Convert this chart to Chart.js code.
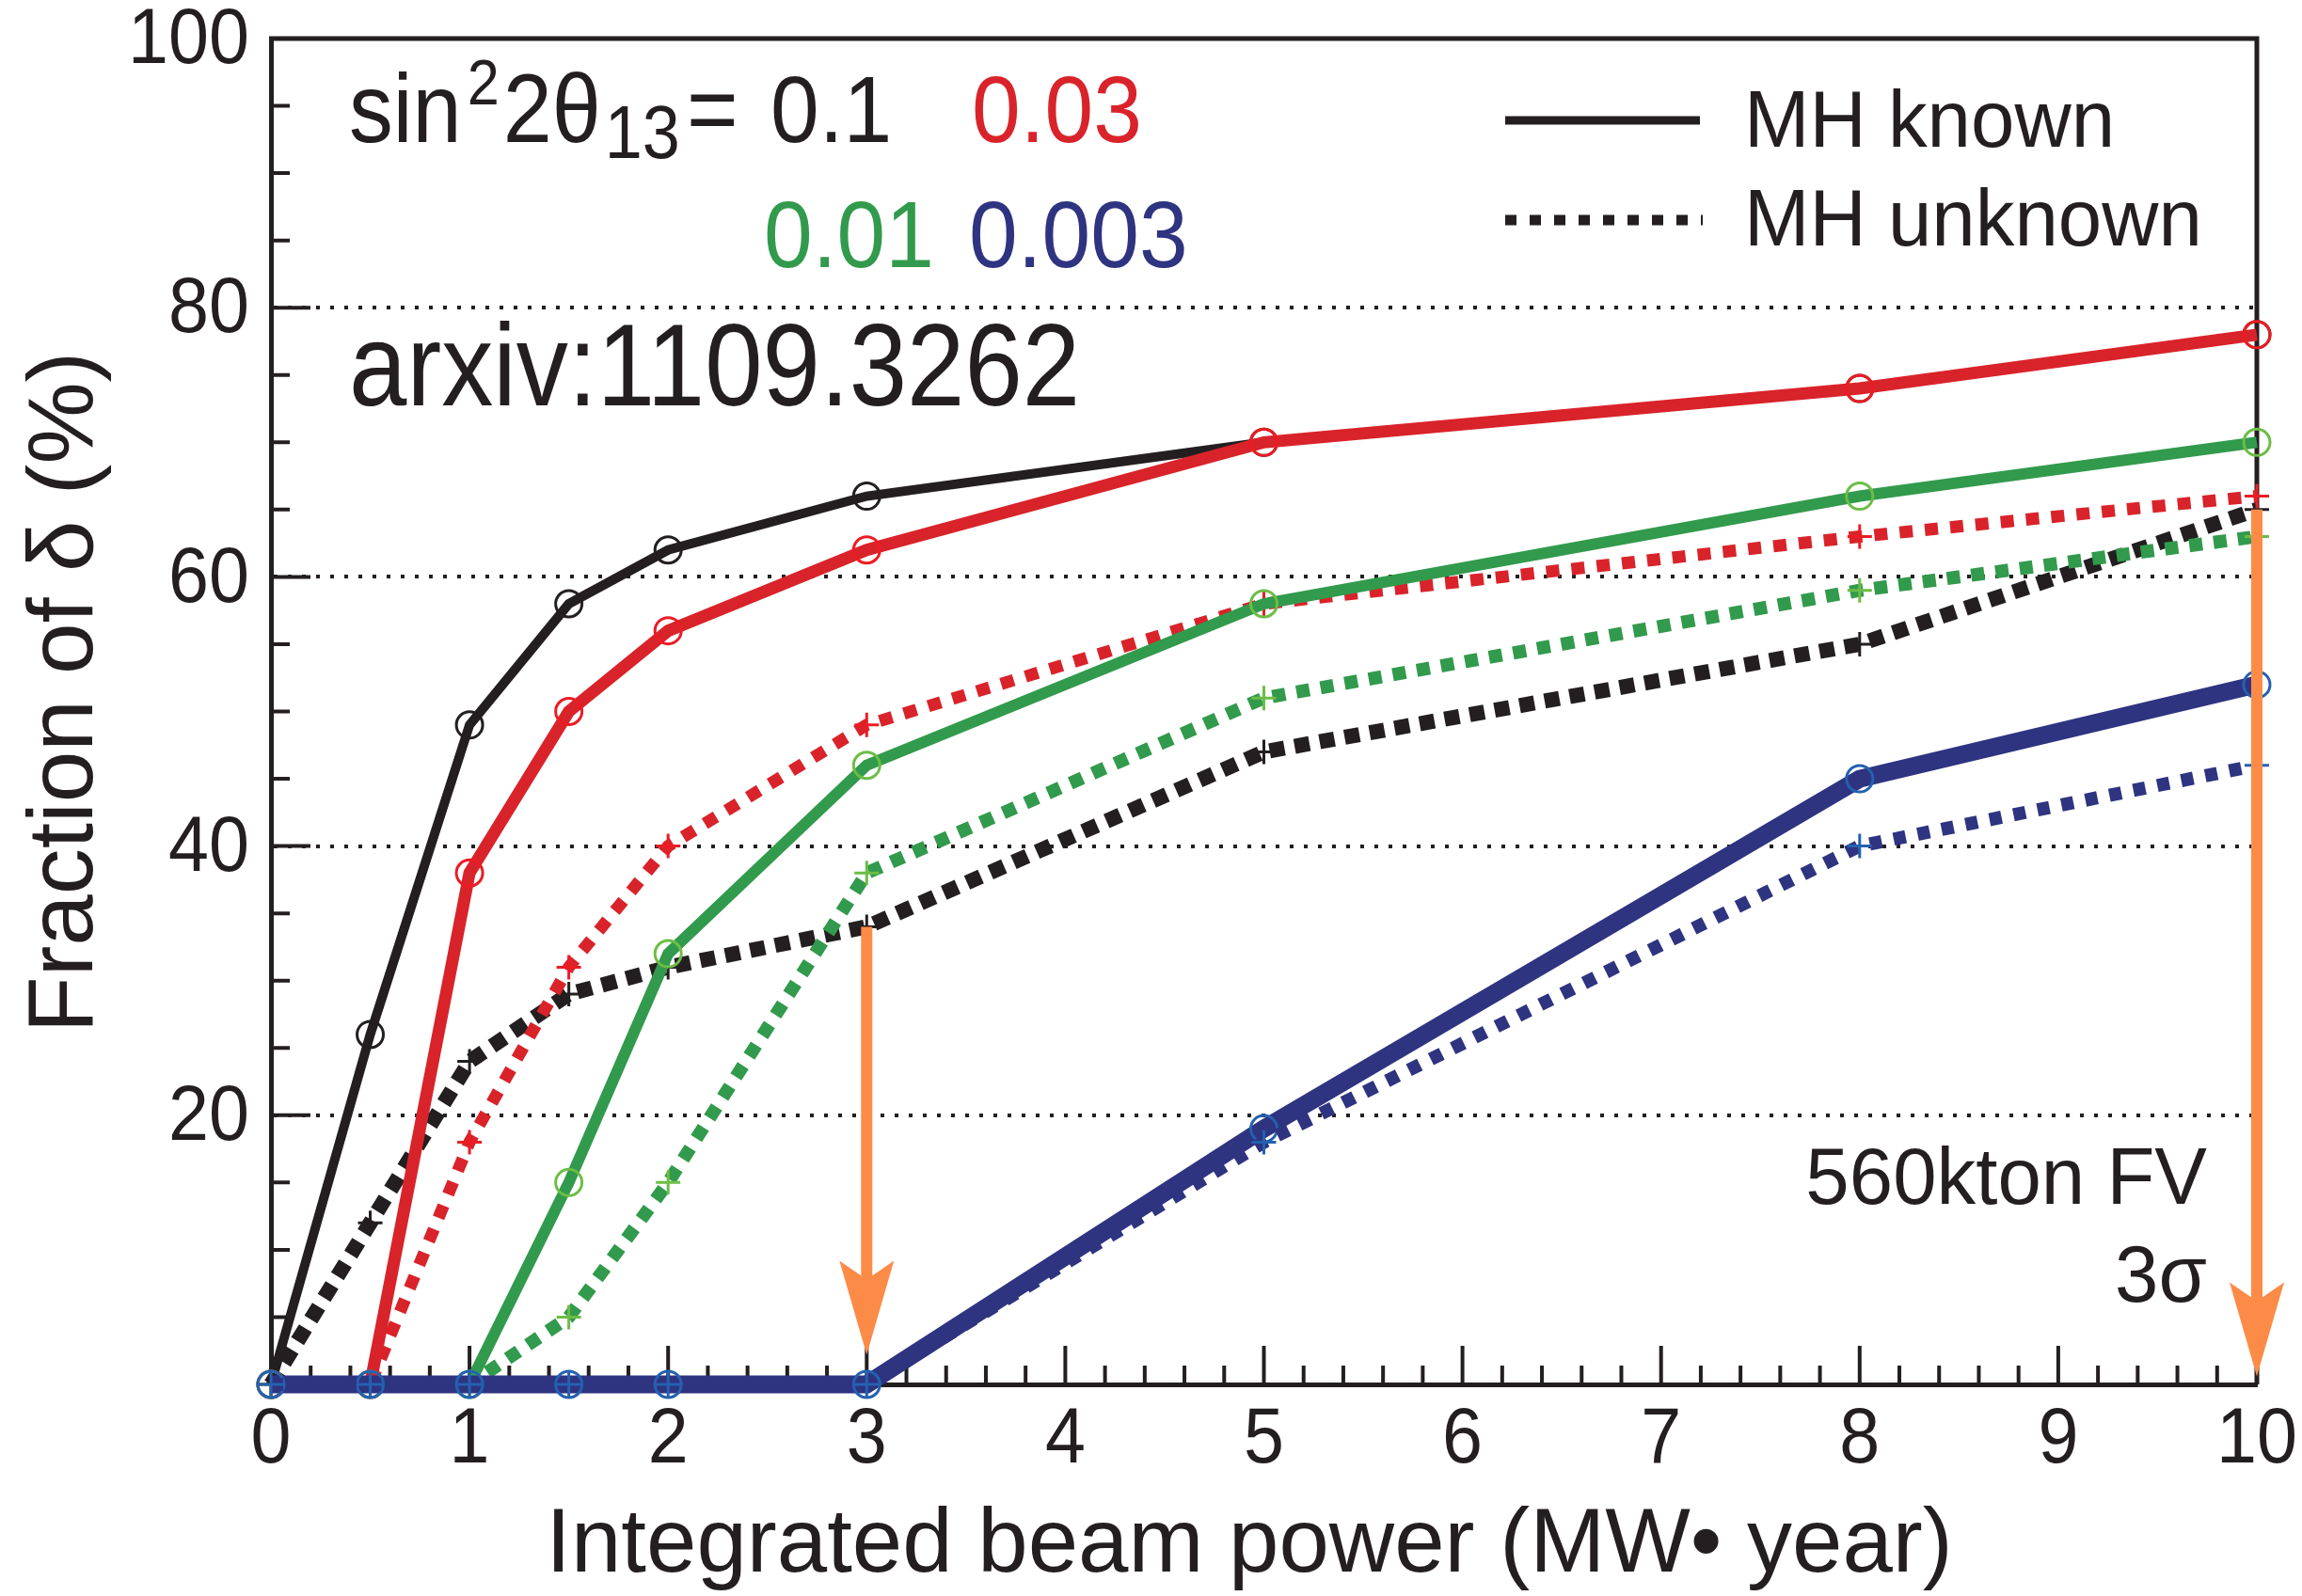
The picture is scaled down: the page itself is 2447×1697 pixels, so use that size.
<!DOCTYPE html>
<html>
<head>
<meta charset="utf-8">
<script src="https://cdn.jsdelivr.net/npm/chart.js@4.4.1/dist/chart.umd.min.js"></script>
<style>
  html, body { margin: 0; padding: 0; background: #fff; }
  canvas { display: block; }
</style>
</head>
<body>
<canvas id="c" width="2447" height="1697"></canvas>
<script>
// integrated beam power (MW*year)
const power = [0, 0.5, 1, 1.5, 2, 3, 5, 8, 10];

// fraction of delta (%) covered at 3 sigma, mass hierarchy known
const known01 = [0, 26, 49, 58, 62, 66, 70, 74, 78];
const known003 = [0, 0, 38, 50, 56, 62, 70, 74, 78];
const known001 = [0, 0, 0, 15, 32, 46, 58, 66, 70];
const known0003 = [0, 0, 0, 0, 0, 0, 19, 45, 52];

// same, mass hierarchy unknown
const unknown01 = [0, 12, 24, 29, 31, 34, 47, 55, 65];
const unknown003 = [0, 0, 18, 31, 40, 49, 58, 63, 66];
const unknown001 = [0, 0, 0, 5, 15, 38, 51, 59, 63];
const unknown0003 = [0, 0, 0, 0, 0, 0, 18, 40, 46];

const xTickLabels = ['0', '1', '2', '3', '4', '5', '6', '7', '8', '9', '10'];
const yTickLabels = ['20', '40', '60', '80', '100'];

// orange arrows: x position, start value, end value
const arrowAt = [3, 10];
const arrowFrom = [34, 65];
const arrowTo = [2.2, 0.6];

const ink = '#231f20';
const FONT = "'Liberation Sans', Arial, Helvetica, sans-serif";
const C = {
  black: ink,
  red: '#d9232a', redMark: '#ec1c24',
  green: '#329a4c', greenMark: '#6cbd45',
  navy: '#2e3480', blueMark: '#2461b0',
  orange: '#fd8b48'
};

function series(values, color, mark, width, dash) {
  return {
    data: values.map((v, i) => ({ x: power[i], y: v })),
    borderColor: color,
    borderWidth: width,
    borderDash: dash || [],
    borderCapStyle: 'butt',
    pointStyle: dash ? 'cross' : 'circle',
    pointRadius: dash ? 13 : 14,
    pointBorderWidth: 3,
    pointBorderColor: mark,
    pointBackgroundColor: 'rgba(0,0,0,0)',
    tension: 0,
    fill: false,
    clip: false
  };
}

// bottom to top
const datasets = [
  series(unknown01, C.black, C.black, 16, [16, 11]),
  series(unknown003, C.red, C.redMark, 13, [14, 13]),
  series(unknown001, C.green, C.greenMark, 14, [14, 12]),
  series(known01, C.black, C.black, 10),
  series(known003, C.red, C.redMark, 13),
  series(known001, C.green, C.greenMark, 12),
  series(known0003, C.navy, C.blueMark, 19),
  series(unknown0003, C.navy, C.blueMark, 14, [13, 13])
];
datasets.forEach((d, i) => { d.order = datasets.length - i; });

// text squeezed horizontally, like a condensed face; returns drawn width
function label(ctx, str, x, y, size, opts = {}) {
  const sx = opts.sx || 0.9;
  ctx.save();
  ctx.font = `${size}px ${FONT}`;
  ctx.fillStyle = opts.color || ink;
  ctx.textAlign = opts.align || 'left';
  ctx.textBaseline = opts.baseline || 'alphabetic';
  ctx.translate(x, y);
  if (opts.rotate) ctx.rotate(opts.rotate);
  ctx.scale(sx, 1);
  ctx.fillText(str, 0, 0);
  const w = ctx.measureText(str).width * sx;
  ctx.restore();
  return w;
}

const decor = {
  id: 'decor',
  beforeDatasetsDraw(chart) {
    const { ctx, chartArea: a, scales: { x, y } } = chart;
    ctx.save();
    ctx.strokeStyle = ink;
    ctx.lineCap = 'butt';

    // top and right of the frame
    ctx.lineWidth = 5;
    ctx.beginPath();
    ctx.moveTo(a.left - 2, a.top);
    ctx.lineTo(a.right, a.top);
    ctx.lineTo(a.right, a.bottom);
    ctx.stroke();

    // inward tick marks
    ctx.lineWidth = 4;
    ctx.beginPath();
    for (let i = 0; i <= 50; i++) {
      const px = x.getPixelForValue(i / 5);
      const len = i % 5 === 0 ? 41 : 20;
      ctx.moveTo(px, a.bottom);
      ctx.lineTo(px, a.bottom - len);
    }
    for (let v = 5; v < 100; v += 5) {
      const py = y.getPixelForValue(v);
      const len = v % 20 === 0 ? 42 : 20;
      ctx.moveTo(a.left, py);
      ctx.lineTo(a.left + len, py);
    }
    ctx.stroke();
    ctx.restore();
  },
  afterDatasetsDraw(chart) {
    const { ctx, scales: { x, y } } = chart;
    ctx.save();
    ctx.fillStyle = C.orange;
    ctx.strokeStyle = C.orange;
    arrowAt.forEach((v, i) => {
      const px = x.getPixelForValue(v);
      const top = y.getPixelForValue(arrowFrom[i]);
      const tip = y.getPixelForValue(arrowTo[i]);
      ctx.lineWidth = 12;
      ctx.beginPath();
      ctx.moveTo(px, top);
      ctx.lineTo(px, tip - 70);
      ctx.stroke();
      ctx.beginPath();
      ctx.moveTo(px, tip);
      ctx.lineTo(px - 29, tip - 100);
      ctx.lineTo(px, tip - 80);
      ctx.lineTo(px + 29, tip - 100);
      ctx.closePath();
      ctx.fill();
    });
    ctx.restore();
  },
  afterDraw(chart) {
    const { ctx, scales: { x, y } } = chart;

    // tick labels
    yTickLabels.forEach(t =>
      label(ctx, t, 265, y.getPixelForValue(Number(t)) + 3, 84, { align: 'right', baseline: 'middle', sx: 0.92 }));
    xTickLabels.forEach(t =>
      label(ctx, t, x.getPixelForValue(Number(t)), 1555, 84, { align: 'center', sx: 0.92 }));

    // axis titles
    label(ctx, 'Integrated beam power (MW\u2022 year)', 1328, 1671, 96, { align: 'center', sx: 1 });
    label(ctx, 'Fraction of \u03b4 (%)', 98, 736, 98, { align: 'center', sx: 1, rotate: -Math.PI / 2 });

    // sin^2 2theta_13 values
    let cx = 371;
    cx += label(ctx, 'sin', cx, 151, 104) + 6;
    cx += label(ctx, '2', cx, 111, 68) + 4;
    cx += label(ctx, '2\u03b8', cx, 151, 104) + 4;
    cx += label(ctx, '13', cx, 168, 80) + 7;
    label(ctx, '=', cx, 151, 104);

    label(ctx, '0.1', 819, 151, 100, { sx: 0.93 });
    label(ctx, '0.03', 1033, 151, 100, { color: C.red, sx: 0.93 });
    label(ctx, '0.01', 812, 284, 100, { color: C.green, sx: 0.93 });
    label(ctx, '0.003', 1030, 284, 100, { color: C.navy, sx: 0.93 });

    label(ctx, 'arxiv:1109.3262', 371, 431, 124, { sx: 0.89 });

    // line style key
    ctx.save();
    ctx.strokeStyle = ink;
    ctx.lineWidth = 9;
    ctx.beginPath();
    ctx.moveTo(1600, 128);
    ctx.lineTo(1807, 128);
    ctx.stroke();
    ctx.lineWidth = 11;
    ctx.setLineDash([12, 14]);
    ctx.beginPath();
    ctx.moveTo(1600, 234);
    ctx.lineTo(1810, 234);
    ctx.stroke();
    ctx.restore();
    label(ctx, 'MH known', 1854, 156, 86, { sx: 0.97 });
    label(ctx, 'MH unknown', 1854, 261, 86, { sx: 0.97 });

    label(ctx, '560kton FV', 2346, 1280, 86, { align: 'right', sx: 0.97 });
    label(ctx, '3\u03c3', 2346, 1384, 86, { align: 'right', sx: 0.97 });
  }
};

new Chart(document.getElementById('c'), {
  type: 'line',
  data: { datasets },
  plugins: [decor],
  options: {
    responsive: false,
    devicePixelRatio: 1,
    animation: false,
    events: [],
    layout: { padding: { left: 288, right: 48, top: 41, bottom: 225 } },
    plugins: { legend: { display: false }, tooltip: { enabled: false } },
    scales: {
      x: {
        type: 'linear',
        min: 0,
        max: 10,
        ticks: { display: false },
        grid: { display: false, drawTicks: false },
        border: { display: true, color: ink, width: 5 }
      },
      y: {
        min: 0,
        max: 100,
        ticks: { display: false, stepSize: 20 },
        grid: {
          drawTicks: false,
          lineWidth: 4,
          color: c => (c.tick && c.tick.value > 0 && c.tick.value < 100) ? ink : 'rgba(0,0,0,0)'
        },
        border: { display: true, color: ink, width: 5, dash: [4, 11] }
      }
    }
  }
});
</script>
</body>
</html>
